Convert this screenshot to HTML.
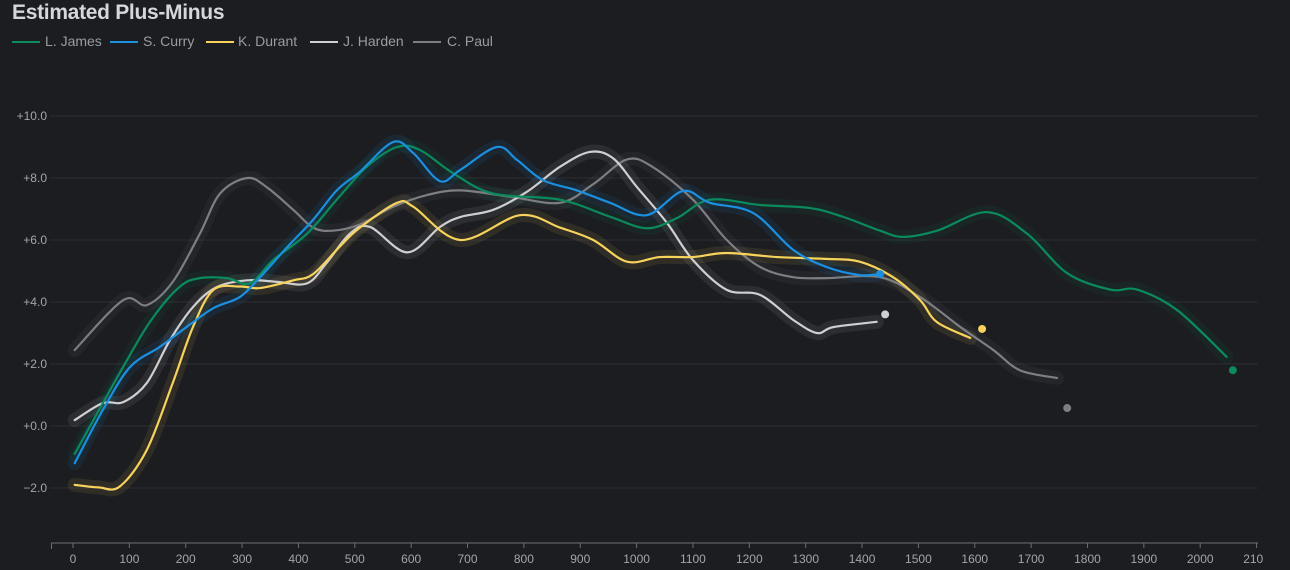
<!DOCTYPE html>
<html><head><meta charset="utf-8"><style>
html,body{margin:0;padding:0;background:#1c1d21;}
body{width:1290px;height:570px;overflow:hidden;position:relative;font-family:"Liberation Sans",sans-serif;}
#title{position:absolute;left:12px;top:1px;font-size:21px;font-weight:bold;color:#d6d7da;letter-spacing:-0.3px;}
#legend{position:absolute;left:0;top:33px;height:18px;width:600px;}
.lg{position:absolute;top:0;font-size:14px;color:#9a9ca2;white-space:nowrap;}
.ln{position:absolute;top:8px;width:28px;height:2px;}
</style></head><body>
<div id="title">Estimated Plus-Minus</div>
<div id="legend">
<div><span class="ln" style="left:12px;background:#0b8a5c"></span><span class="lg" style="left:45px">L. James</span></div>
<div><span class="ln" style="left:110px;background:#1b8fe0"></span><span class="lg" style="left:143px">S. Curry</span></div>
<div><span class="ln" style="left:206px;background:#f7d35c"></span><span class="lg" style="left:238px">K. Durant</span></div>
<div><span class="ln" style="left:310px;background:#cfcfd2"></span><span class="lg" style="left:343px">J. Harden</span></div>
<div><span class="ln" style="left:413px;background:#7d7e82"></span><span class="lg" style="left:447px">C. Paul</span></div>
</div>
<div style="position:absolute;left:0;top:0;width:1263px;height:570px;overflow:hidden">
<svg id="chart" width="1290" height="570"></svg>
</div>
<script>
const xTicks=[0,100,200,300,400,500,600,700,800,900,1000,1100,1200,1300,1400,1500,1600,1700,1800,1900,2000,2100];
const yTicks=[-2,0,2,4,6,8,10];
const jamesX=[3,95,142,190,225,273,314,355,415,468,521,575,616,674,745,864,953,1018,1071,1130,1219,1308,1366,1432,1473,1533,1622,1693,1764,1840,1888,1959,2047];
const jamesY=[-0.9,2.1,3.5,4.5,4.77,4.77,4.6,5.35,6.2,7.3,8.36,9.0,8.9,8.16,7.5,7.3,6.75,6.38,6.7,7.3,7.13,7.03,6.75,6.3,6.1,6.3,6.9,6.2,4.93,4.4,4.4,3.74,2.23];
const jamesEnd=[2058,1.8];
const curryX=[3,53,101,154,202,249,296,332,380,426,468,509,568,604,651,687,752,788,834,894,953,1018,1082,1130,1207,1278,1337,1396,1432];
const curryY=[-1.2,0.52,1.9,2.55,3.2,3.8,4.16,4.8,5.77,6.65,7.6,8.2,9.16,8.8,7.9,8.26,9.0,8.58,7.93,7.6,7.2,6.8,7.58,7.2,6.87,5.68,5.13,4.87,4.9];
const curryEnd=[1432,4.9];
const durantX=[3,45,83,131,177,213,249,296,332,391,426,474,509,575,604,687,793,864,923,983,1041,1100,1160,1249,1337,1396,1455,1503,1533,1592];
const durantY=[-1.9,-1.98,-1.95,-0.77,1.39,3.2,4.39,4.5,4.45,4.7,4.9,5.8,6.4,7.2,7.07,6.0,6.8,6.4,6.0,5.3,5.45,5.45,5.58,5.45,5.39,5.3,4.8,4.06,3.35,2.84];
const durantEnd=[1613,3.13];
const hardenX=[3,53,89,131,172,213,255,309,362,415,450,491,527,593,651,687,745,805,864,917,958,1001,1054,1100,1160,1219,1278,1320,1349,1426];
const hardenY=[0.19,0.74,0.77,1.39,2.77,3.84,4.48,4.7,4.65,4.6,5.26,6.2,6.42,5.6,6.42,6.74,6.97,7.55,8.36,8.84,8.64,7.7,6.55,5.35,4.39,4.23,3.42,3.0,3.19,3.36];
const hardenEnd=[1441,3.6];
const paulX=[3,89,131,177,225,261,309,344,391,426,461,509,568,628,687,775,864,923,983,1029,1100,1160,1219,1278,1337,1432,1503,1574,1633,1680,1746];
const paulY=[2.45,4.06,3.9,4.65,6.2,7.5,8.0,7.7,6.97,6.4,6.3,6.5,7.07,7.45,7.6,7.4,7.2,7.8,8.6,8.35,7.3,6.0,5.13,4.8,4.77,4.8,4.16,3.2,2.45,1.8,1.55];
const paulEnd=[1764,0.58];

const NS="http://www.w3.org/2000/svg";
const svg=document.getElementById('chart');
const X=g=>73+0.5636*g;
const Y=v=>426-31*v;
function mk(t,a){const e=document.createElementNS(NS,t);for(const k in a)e.setAttribute(k,a[k]);svg.appendChild(e);return e;}
yTicks.forEach(v=>{
  const l=mk('line',{x1:50,x2:1258,y1:Y(v),y2:Y(v),stroke:'#2c2d32','stroke-width':1});
  
  
  const t=mk('text',{x:47,y:Y(v)+4,'text-anchor':'end','font-size':12,fill:'#a3a5ab','font-family':'Liberation Sans, sans-serif'});
  t.textContent=(v<0?'\u2212':'+')+Math.abs(v).toFixed(1);
  
  
});
const ax=mk('line',{x1:51,x2:1258,y1:543,y2:543,stroke:'#6c6e74','stroke-width':1});


const ax0=mk('line',{x1:51.5,x2:51.5,y1:543,y2:549,stroke:'#6c6e74','stroke-width':1});


xTicks.forEach(g=>{
  const tk=mk('line',{x1:X(g),x2:X(g),y1:543,y2:548,stroke:'#6c6e74','stroke-width':1});
  
  
  const t=mk('text',{x:X(g),y:563,'text-anchor':'middle','font-size':12,fill:'#a3a5ab','font-family':'Liberation Sans, sans-serif'});
  t.textContent=g;
  
  
});
function pathD(xs,ys){
  const p=xs.map((g,i)=>[X(g),Y(ys[i])]);
  let d='M'+p[0][0]+','+p[0][1];
  for(let i=0;i<p.length-1;i++){
    const p0=p[i-1]||p[i],p1=p[i],p2=p[i+1],p3=p[i+2]||p2;
    const c1=[p1[0]+(p2[0]-p0[0])/6,p1[1]+(p2[1]-p0[1])/6];
    const c2=[p2[0]-(p3[0]-p1[0])/6,p2[1]-(p3[1]-p1[1])/6];
    d+=' C'+c1[0]+','+c1[1]+' '+c2[0]+','+c2[1]+' '+p2[0]+','+p2[1];
  }
  return d;
}
const series=[
  ['c-paul',paulX,paulY,paulEnd,'#7d7e82'],
  ['j-harden',hardenX,hardenY,hardenEnd,'#cfcfd2'],
  ['k-durant',durantX,durantY,durantEnd,'#f7d35c'],
  ['l-james',jamesX,jamesY,jamesEnd,'#0b8a5c'],
  ['s-curry',curryX,curryY,curryEnd,'#1b8fe0']
];
series.forEach(s=>{
  const d=pathD(s[1],s[2]);
  const h=mk('path',{d:d,fill:'none',stroke:s[4],'stroke-width':14,'stroke-opacity':0.09,'stroke-linecap':'round'});
  
  
});
series.forEach(s=>{
  const d=pathD(s[1],s[2]);
  const p=mk('path',{d:d,fill:'none',stroke:s[4],'stroke-width':2.2,'stroke-linecap':'round'});
  
  
  const c=mk('circle',{cx:X(s[3][0]),cy:Y(s[3][1]),r:4,fill:s[4]});
  
  
});
</script>
</body></html>
